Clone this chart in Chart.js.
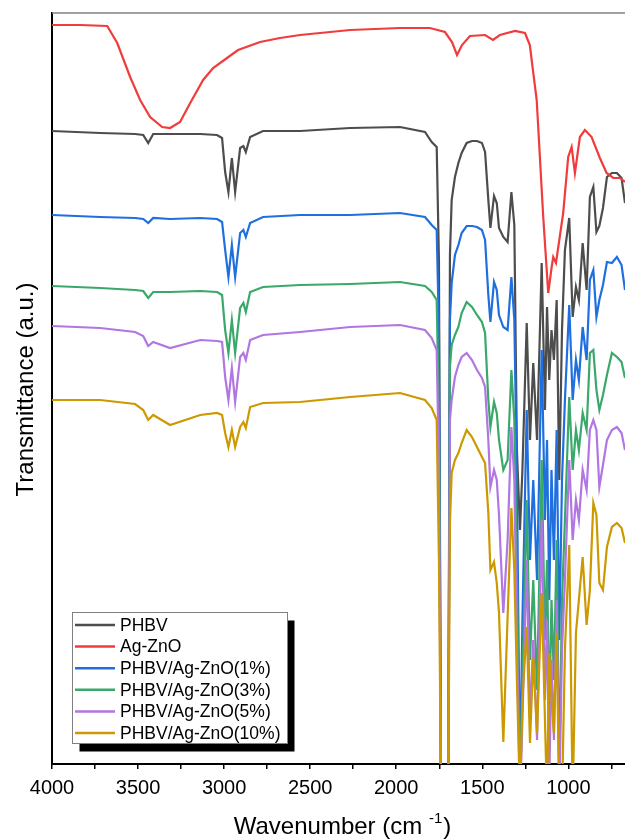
<!DOCTYPE html>
<html>
<head>
<meta charset="utf-8">
<script src="https://cdn.jsdelivr.net/npm/chart.js@4.4.1/dist/chart.umd.min.js"></script>
<style>
  html, body { margin: 0; padding: 0; background: #fff; }
  #wrap { width: 625px; height: 840px; }
</style>
</head>
<body>
<div id="wrap"><canvas id="ftirChart" width="625" height="840"></canvas></div>
<script>
// wavenumber grid (cm-1) shared by the PHBV based spectra
const wavenumbers = [4000, 3720, 3517, 3470, 3441, 3412, 3314, 3139, 3041, 3012,
  2994, 2975, 2955, 2936, 2907, 2888, 2874, 2849, 2774, 2559,
  2268, 1978, 1833, 1794, 1765, 1752, 1740, 1717, 1698, 1688,
  1678, 1659, 1639, 1620, 1591, 1560, 1531, 1502, 1484, 1465,
  1453, 1432, 1416, 1403, 1378, 1353, 1331, 1314, 1299, 1281,
  1267, 1242, 1223, 1204, 1182, 1155, 1136, 1124, 1111, 1098,
  1084, 1068, 1053, 1037, 1020, 995, 975, 956, 939, 917,
  894, 875, 855, 837, 820, 799, 776, 747, 718, 691, 671];

// transmittance (a.u., stacked offsets as in the figure)
const phbv = [126.6, 126.2, 126.0, 125.8, 124.2, 126.0, 126.0, 126.0, 125.8, 125.2,
  118.4, 114.4, 121.2, 114.4, 123.2, 123.6, 122.4, 125.4, 126.6, 126.6,
  127.2, 127.4, 126.4, 124.4, 123.4, 100.8, -7.2, -19.2, -7.2, 101.8,
  112.8, 117.4, 120.2, 122.2, 124.2, 124.6, 124.6, 124.2, 122.4, 112.8,
  107.2, 113.6, 112.2, 107.2, 105.4, 104.4, 114.4, 107.8, 62.8, 46.8,
  58.8, 88.2, 64.8, 80.2, 64.8, 100.2, 70.8, 91.4, 76.8, 86.8,
  80.8, 92.8, 56.8, 86.8, 102.8, 109.2, 89.4, 95.4, 92.8, 104.2,
  94.8, 113.4, 115.4, 106.4, 107.6, 111.2, 117.4, 118.2, 118.2, 117.2, 112.2];

const agzno1 = [109.8, 109.4, 109.2, 109.0, 108.2, 109.2, 109.0, 109.2, 109.0, 108.4,
  102.8, 97.4, 103.8, 97.4, 106.2, 106.8, 105.4, 108.2, 109.4, 109.8,
  109.8, 110.2, 109.4, 107.8, 106.8, 86.8, -7.2, -19.2, -7.2, 88.8,
  96.2, 101.8, 103.8, 106.2, 107.6, 107.6, 107.4, 106.8, 104.8, 93.8,
  88.4, 96.4, 94.8, 89.8, 87.4, 86.8, 97.4, 88.8, 56.8, -3.2,
  28.8, 70.8, 40.8, 56.8, 36.8, 82.8, 48.8, 64.8, 32.8, 58.8,
  40.8, 66.8, 24.8, 56.8, 72.8, 91.8, 72.8, 80.8, 76.8, 87.4,
  80.8, 96.8, 98.8, 89.4, 92.8, 95.8, 100.4, 100.2, 101.4, 99.8, 94.8];

const agzno3 = [95.6, 95.2, 94.8, 94.6, 93.2, 94.4, 94.4, 94.6, 94.4, 93.8,
  86.8, 82.2, 88.8, 82.2, 91.2, 92.2, 90.4, 94.4, 95.4, 95.8,
  96.0, 96.4, 95.6, 94.4, 92.8, 68.8, -7.2, -19.2, -7.2, 79.4,
  83.8, 85.8, 87.4, 90.2, 92.4, 91.4, 89.8, 88.4, 86.2, 72.8,
  67.4, 72.4, 70.2, 64.8, 58.8, 60.8, 78.8, 68.8, 36.8, -7.2,
  16.8, 52.8, 20.8, 36.8, 14.8, 60.8, 24.8, 40.8, 8.8, 32.8,
  16.8, 44.8, -1.2, 32.8, 48.8, 73.4, 58.8, 66.8, 62.8, 70.2,
  66.8, 82.2, 82.8, 74.8, 70.8, 73.8, 77.8, 82.2, 81.4, 80.4, 77.2];

const agzno5 = [87.6, 87.2, 86.4, 85.6, 83.6, 84.4, 83.2, 84.8, 84.6, 84.4,
  77.4, 72.8, 79.2, 72.4, 81.4, 82.2, 80.8, 84.8, 85.8, 86.4,
  87.4, 87.8, 86.8, 85.2, 82.8, 58.8, -7.2, -19.2, -7.2, 68.8,
  72.8, 77.4, 79.8, 81.4, 82.2, 80.8, 78.8, 77.2, 75.4, 64.8,
  55.4, 58.8, 56.8, 49.8, 30.2, 44.8, 67.4, 56.8, 24.8, -7.2,
  8.8, 40.8, 8.8, 24.8, 4.8, 48.8, 12.8, 28.8, -3.2, 20.8,
  4.8, 32.8, -7.2, 22.8, 36.8, 60.8, 44.8, 52.8, 48.8, 58.8,
  54.8, 66.8, 68.8, 66.8, 55.4, 59.8, 64.8, 66.8, 67.4, 66.2, 62.8];

const agzno10 = [72.8, 72.8, 72.0, 70.8, 68.8, 69.8, 67.8, 69.8, 70.2, 69.8,
  66.2, 63.4, 66.8, 63.4, 67.4, 68.4, 67.2, 71.4, 72.2, 72.4,
  73.4, 74.2, 72.8, 71.2, 68.8, 40.8, -7.2, -19.2, -7.2, 48.2,
  58.2, 60.8, 62.2, 64.2, 66.8, 65.4, 63.4, 61.4, 60.2, 50.2,
  38.8, 40.4, 36.2, 30.2, 4.4, 29.4, 51.2, 38.8, 16.8, -7.2,
  12.8, 27.4, 4.2, 21.4, 6.2, 34.2, 8.8, -7.2, 22.2, 12.8,
  6.2, 26.2, -7.2, -7.2, 22.8, 43.8, -7.2, 26.2, 32.8, 41.4,
  27.8, 34.8, 52.2, 49.8, 36.2, 34.8, 43.4, 47.4, 48.2, 47.2, 44.2];

// Ag-ZnO powder has its own sampling points
const agznoWavenumbers = [4000, 3836, 3679, 3621, 3546, 3488, 3430, 3360, 3314, 3256,
  3197, 3122, 3064, 2983, 2919, 2791, 2675, 2559, 2268, 1978,
  1804, 1717, 1676, 1647, 1618, 1572, 1484, 1438, 1398, 1310,
  1252, 1224, 1206, 1184, 1146, 1117, 1097, 1088, 1072, 1030,
  1001, 981, 962, 933, 904, 865, 817, 778, 739, 700, 671];
const agzno = [147.8, 147.8, 147.6, 144.2, 137.4, 132.8, 129.4, 127.4, 127.2, 128.4,
  132.2, 136.8, 139.2, 141.2, 142.8, 144.4, 145.2, 145.8, 146.8, 147.2,
  147.2, 146.4, 144.4, 141.8, 143.8, 145.6, 145.8, 144.8, 145.8, 146.6,
  146.2, 143.8, 138.8, 132.8, 109.4, 94.2, 99.4, 101.4, 100.2, 110.2,
  121.4, 123.4, 118.2, 125.4, 126.8, 125.4, 121.2, 118.2, 117.2, 117.2, 116.4];

const seriesLabels = ['PHBV', 'Ag-ZnO', 'PHBV/Ag-ZnO(1%)', 'PHBV/Ag-ZnO(3%)', 'PHBV/Ag-ZnO(5%)', 'PHBV/Ag-ZnO(10%)'];
const seriesColors = ['#4d4d4d', '#f03c3c', '#1f6fdf', '#3aa86a', '#b176e2', '#cc9900'];
const xTicks = [4000, 3750, 3500, 3250, 3000, 2750, 2500, 2250, 2000, 1750, 1500, 1250, 1000, 750];

const FONT = "'Liberation Sans', Arial, sans-serif";

function toPoints(xs, ys) {
    return xs.map((x, i) => ({ x: x, y: ys[i] }));
}

const seriesData = [
    toPoints(wavenumbers, phbv),
    toPoints(agznoWavenumbers, agzno),
    toPoints(wavenumbers, agzno1),
    toPoints(wavenumbers, agzno3),
    toPoints(wavenumbers, agzno5),
    toPoints(wavenumbers, agzno10)
];

// frame, boxed legend with shadow and axis titles
const decorPlugin = {
    id: 'decor',
    afterDraw(chart) {
        const ctx = chart.ctx;
        const area = chart.chartArea;
        ctx.save();

        // grey top frame line
        ctx.strokeStyle = '#808080';
        ctx.lineWidth = 1.5;
        ctx.beginPath();
        ctx.moveTo(area.left, area.top);
        ctx.lineTo(area.right, area.top);
        ctx.stroke();

        // legend
        const bx = 72.5, by = 612.5, bw = 215, bh = 131;
        ctx.fillStyle = '#000';
        ctx.fillRect(bx + 7, by + 8, bw, bh);
        ctx.fillStyle = '#fff';
        ctx.fillRect(bx, by, bw, bh);
        ctx.strokeStyle = '#808080';
        ctx.lineWidth = 1;
        ctx.strokeRect(bx, by, bw, bh);
        ctx.font = '17.5px ' + FONT;
        ctx.textBaseline = 'middle';
        ctx.textAlign = 'left';
        seriesLabels.forEach((label, i) => {
            const y = 625 + i * 21.6;
            ctx.strokeStyle = seriesColors[i];
            ctx.lineWidth = 2.5;
            ctx.beginPath();
            ctx.moveTo(75, y);
            ctx.lineTo(115, y);
            ctx.stroke();
            ctx.fillStyle = '#000';
            ctx.fillText(label, 120, y + 1);
        });

        // x title with superscript
        ctx.fillStyle = '#000';
        ctx.textBaseline = 'alphabetic';
        const mainFont = '24px ' + FONT, supFont = '15px ' + FONT;
        ctx.font = mainFont;
        const partA = 'Wavenumber (cm ', partC = ')';
        const wA = ctx.measureText(partA).width, wC = ctx.measureText(partC).width;
        ctx.font = supFont;
        const wB = ctx.measureText('-1').width;
        let tx = 342 - (wA + wB + wC) / 2;
        ctx.font = mainFont;
        ctx.fillText(partA, tx, 834);
        ctx.font = supFont;
        ctx.fillText('-1', tx + wA, 823);
        ctx.font = mainFont;
        ctx.fillText(partC, tx + wA + wB + 1, 834);

        // y title
        ctx.translate(33, 389.5);
        ctx.rotate(-Math.PI / 2);
        ctx.textAlign = 'center';
        ctx.fillText('Transmittance (a.u.)', 0, 0);

        ctx.restore();
    }
};

const ctx = document.getElementById('ftirChart').getContext('2d');
const chart = new Chart(ctx, {
    type: 'line',
    data: {
        datasets: seriesLabels.map((label, i) => ({
            label: label,
            data: seriesData[i],
            borderColor: seriesColors[i],
            backgroundColor: seriesColors[i],
            borderWidth: 2.2,
            pointRadius: 0,
            tension: 0,
            fill: false,
            order: seriesLabels.length - i
        }))
    },
    options: {
        responsive: false,
        animation: false,
        devicePixelRatio: 1,
        layout: { padding: { top: 13, right: 0, bottom: 0, left: 0 } },
        plugins: {
            legend: { display: false },
            tooltip: { enabled: false }
        },
        scales: {
            x: {
                type: 'linear',
                reverse: true,
                min: 671,
                max: 4000,
                afterBuildTicks: scale => {
                    scale.ticks = xTicks.map(v => ({ value: v }));
                },
                afterFit: scale => { scale.height = 76; },
                ticks: {
                    autoSkip: false,
                    maxRotation: 0,
                    padding: 7,
                    color: '#000',
                    font: { family: FONT, size: 20 },
                    callback: v => (v % 500 === 0 ? String(v) : '')
                },
                grid: {
                    drawOnChartArea: false,
                    drawTicks: true,
                    tickLength: 5,
                    color: '#000',
                    lineWidth: 1.5
                },
                border: { display: true, color: '#000', width: 2 }
            },
            y: {
                min: 0,
                max: 150.2,
                afterFit: scale => { scale.width = 52; },
                ticks: { display: false },
                grid: { display: false },
                border: { display: true, color: '#000', width: 2 }
            }
        }
    },
    plugins: [decorPlugin]
});
</script>
</body>
</html>
